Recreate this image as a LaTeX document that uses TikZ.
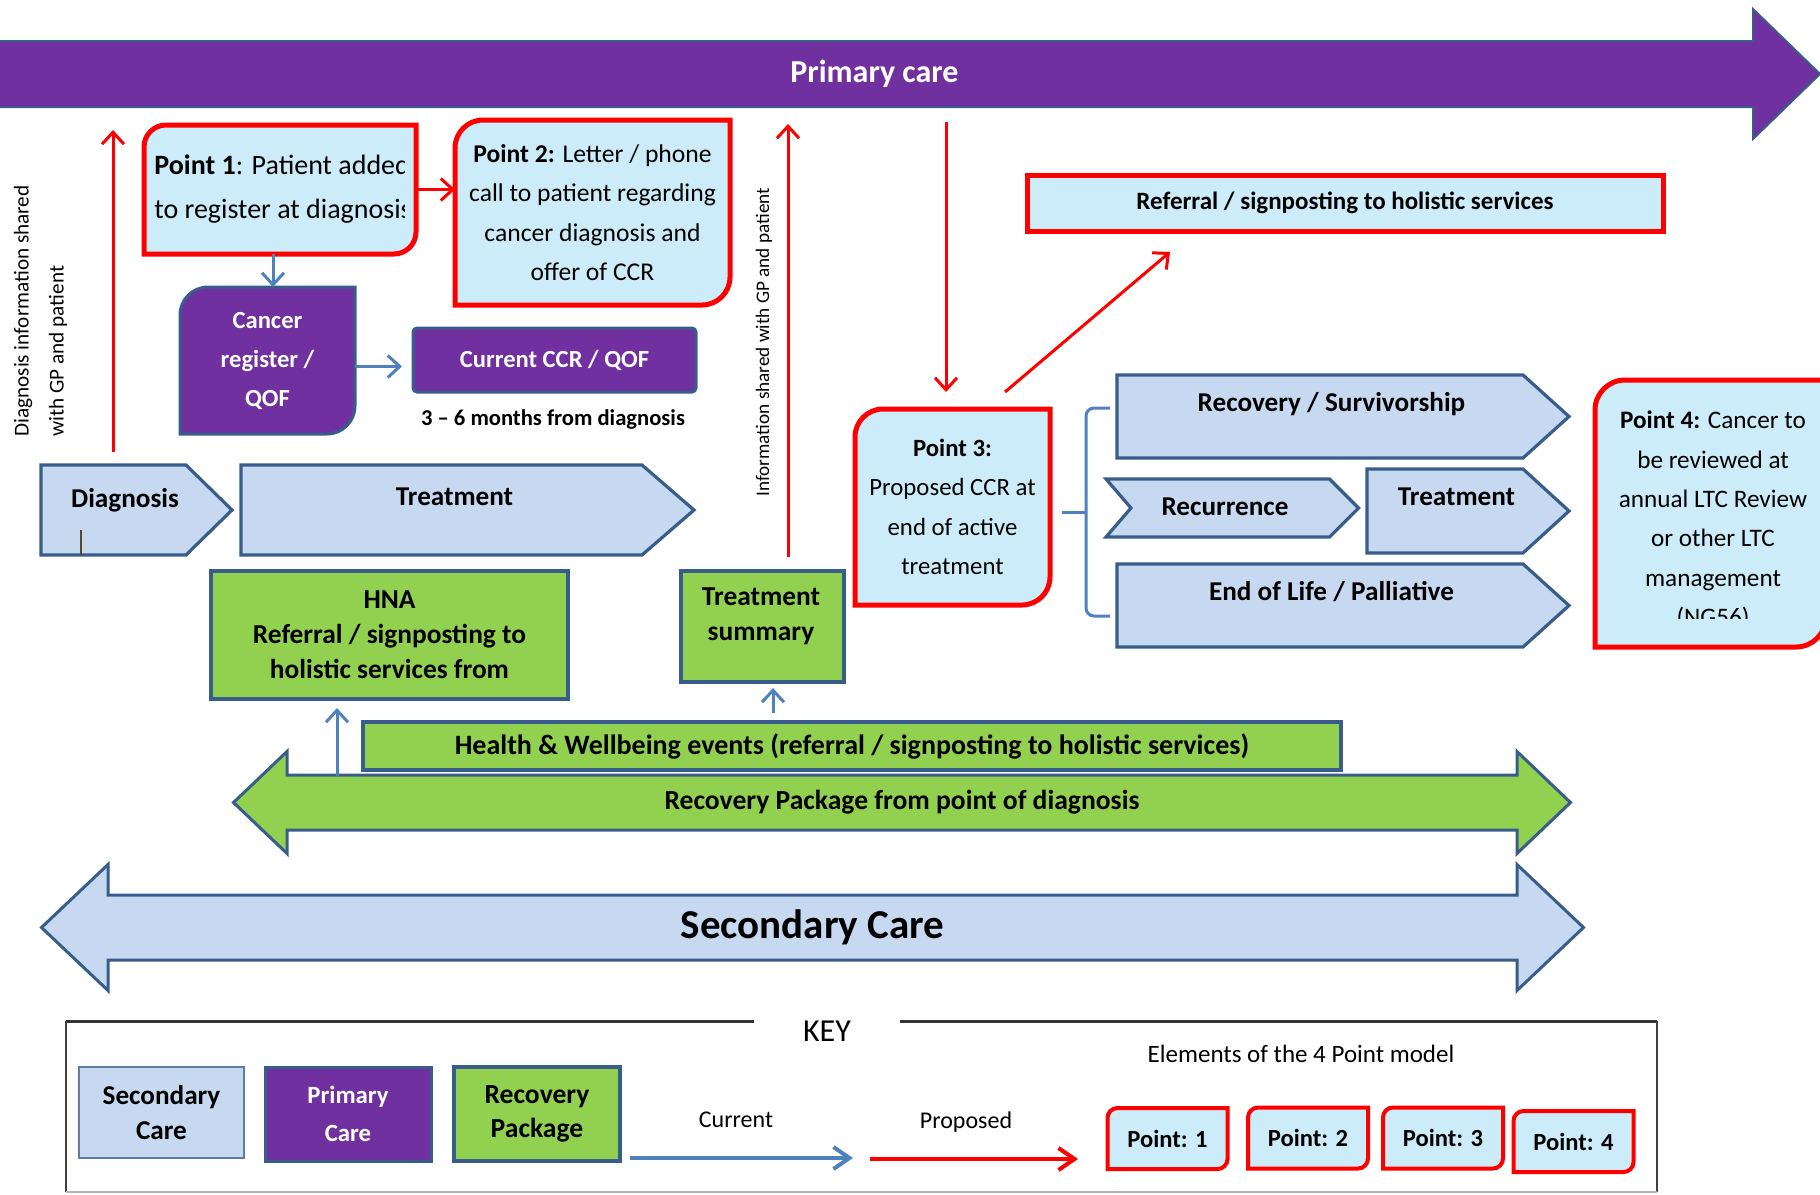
\documentclass[tikz,border=0pt]{standalone}
\usepackage{fontspec}
\setmainfont{Carlito}
\usepackage{tikz}
\usetikzlibrary{arrows.meta, positioning, backgrounds}
\definecolor{pcpurple}{RGB}{112,48,160}
\definecolor{scblue}{RGB}{198,217,241}
\definecolor{edgeblue}{RGB}{56,93,138}
\definecolor{rpgreen}{RGB}{146,208,80}
\definecolor{ptcyan}{RGB}{204,236,250}
\definecolor{ptred}{RGB}{255,0,0}
\definecolor{flowblue}{RGB}{79,129,189}
\definecolor{tickbrown}{RGB}{90,70,40}
\newcommand{\fsz}[2]{\fontsize{#1}{#2}\selectfont}
\tikzset{
  shapebox/.style={rectangle, inner sep=0pt, outer sep=0pt, align=center},
  ptframe/.style={draw=ptred, fill=ptcyan, line width=2.5pt},
  ptkeyframe/.style={draw=ptred, fill=ptcyan, line width=2pt},
  pctext/.style={text=white, font=\bfseries\fsz{12.3}{19.5}},
  pcbox/.style={shapebox, fill=pcpurple, draw=edgeblue, line width=1.5pt, pctext},
  rpbox/.style={shapebox, fill=rpgreen, draw=edgeblue, line width=2pt, font=\bfseries\fsz{13.7}{17.5}},
  chevline/.style={draw=edgeblue, fill=scblue, line width=1.6pt},
  chevnode/.style={shapebox, font=\bfseries\fsz{13.6}{17}, text height=9pt, text depth=#1},
  kpoint/.style={shapebox, minimum width=60pt, minimum height=30.5pt, font=\bfseries\fsz{12.3}{14}},
  redarrow/.style={-{Straight Barb[length=6pt,width=11pt]}, draw=ptred, line width=1.5pt},
  bluearrow/.style={-{Straight Barb[length=6pt,width=11pt]}, draw=flowblue, line width=1.5pt},
  sidetext/.style={rotate=90, align=left, inner sep=0pt},
  keytext/.style={font=\fsz{12}{14}}
}
% outline with the top-left and bottom-right corners rounded
\newcommand{\diagframe}[3]{%
  \begin{scope}[on background layer]
    \draw[#1] ([xshift=#3]#2.north west) -- (#2.north east)
      -- ([yshift=#3]#2.south east) arc[start angle=0, end angle=-90, radius=#3]
      -- (#2.south west) -- ([yshift=-#3]#2.north west)
      arc[start angle=180, end angle=90, radius=#3] -- cycle;
  \end{scope}}
% pointed box, the node holds the body plus half the tip
\newcommand{\homeplate}[2]{%
  \begin{scope}[on background layer]
    \draw[chevline] (#1.north west) -- ([xshift=-#2]#1.north east)
      -- ([xshift=#2]#1.east) -- ([xshift=-#2]#1.south east)
      -- (#1.south west) -- cycle;
  \end{scope}}
\newcommand{\notchplate}[3]{%
  \begin{scope}[on background layer]
    \draw[chevline] (#1.north west) -- ([xshift=-#2]#1.north east)
      -- ([xshift=#2]#1.east) -- ([xshift=-#2]#1.south east)
      -- (#1.south west) -- ([xshift=#3]#1.west) -- cycle;
  \end{scope}}
% block arrows, the node is the shaft
\newcommand{\onearrow}[4]{%
  \begin{scope}[on background layer]
    \draw[#1] (#2.north west) -- (#2.north east) -- ([yshift=#4]#2.north east)
      -- ([xshift=#3]#2.east) -- ([yshift=-#4]#2.south east) -- (#2.south east)
      -- (#2.south west) -- cycle;
  \end{scope}}
\newcommand{\twoarrow}[4]{%
  \begin{scope}[on background layer]
    \draw[#1] (#2.north west) -- (#2.north east) -- ([yshift=#4]#2.north east)
      -- ([xshift=#3]#2.east) -- ([yshift=-#4]#2.south east) -- (#2.south east)
      -- (#2.south west) -- ([yshift=-#4]#2.south west)
      -- ([xshift=-#3]#2.west) -- ([yshift=#4]#2.north west) -- cycle;
  \end{scope}}

\begin{document}
\begin{tikzpicture}[x=0.5pt, y=-0.5pt]
  \useasboundingbox (0,0) rectangle (1820,1194);

  % primary care band
  \node[shapebox, minimum width=878.5pt, minimum height=33pt, text=white,
    font=\bfseries\fsz{16}{18}] (pcband) at (874.5,74) {Primary care};
  \onearrow{draw=edgeblue, fill=pcpurple, line width=1pt}{pcband}{33.5pt}{16pt}

  % four points
  \node[shapebox, minimum width=136pt, minimum height=64.5pt] (pt1) at (280,189.5) {};
  \diagframe{ptframe}{pt1}{11pt}
  \begin{scope}
    \clip ([xshift=2pt]pt1.south west) rectangle ([xshift=-6pt]pt1.north east);
    \node[anchor=west, align=left, inner sep=0pt, font=\fsz{14}{22}] (pt1txt)
      at ([xshift=5pt]pt1.west) {\textbf{Point 1}: Patient added\\to register at diagnosis};
  \end{scope}

  \node[shapebox, minimum width=137.5pt, minimum height=92.5pt, font=\fsz{12.8}{19.7}] (pt2)
    at (592.5,212.5) {\textbf{Point 2:} Letter / phone\\call to patient regarding\\cancer diagnosis and\\offer of CCR};
  \diagframe{ptframe}{pt2}{14pt}

  \node[shapebox, minimum width=97.5pt, minimum height=98pt, font=\fsz{12.4}{19.7}] (pt3)
    at (952.5,507) {\textbf{Point 3:}\\Proposed CCR at\\end of active\\treatment};
  \diagframe{ptframe}{pt3}{14pt}

  \node[shapebox, minimum width=115.5pt, minimum height=133.5pt] (pt4) at (1710.5,513.5) {};
  \diagframe{ptframe}{pt4}{15pt}
  \begin{scope}
    \clip (pt4.north west) rectangle ([yshift=14.5pt]pt4.south east);
    \node[shapebox, font=\fsz{12.6}{19.7}] (pt4txt) at ([xshift=1.25pt,yshift=-3.25pt]pt4.center)
      {\textbf{Point 4:} Cancer to\\be reviewed at\\annual LTC Review\\or other LTC\\management\\(NG56)};
  \end{scope}

  % register
  \node[shapebox, pctext, minimum width=87.5pt, minimum height=73.5pt] (ccreg) at (267.5,360.5) {Cancer\\register /\\QOF};
  \diagframe{draw=edgeblue, fill=pcpurple, line width=1.5pt}{ccreg}{14pt}
  \node[pcbox, minimum width=141.5pt, minimum height=32pt, rounded corners=2pt] (ccr) at (554.5,360) {Current CCR / QOF};
  \node[font=\bfseries\fsz{11.3}{13}] (months) at (553,419) {3 – 6 months from diagnosis};

  \node[shapebox, ptframe, minimum width=318pt, minimum height=28pt, font=\bfseries\fsz{12.5}{14}] (referral)
    at (1345,203) {Referral / signposting to holistic services};

  % pathway
  \node[chevnode=11.2pt, minimum width=84pt, minimum height=45pt] (diag) at (125,510) {Diagnosis};
  \homeplate{diag}{11.5pt}
  \node[chevnode=13.2pt, minimum width=213.5pt, minimum height=45pt] (treat) at (454.5,510) {Treatment};
  \homeplate{treat}{13pt}
  \node[chevnode=13.7pt, minimum width=214.5pt, minimum height=41.5pt] (recov) at (1331.5,416.5) {Recovery / Survivorship};
  \homeplate{recov}{11.5pt}
  \node[chevnode=1.2pt, minimum width=119pt, minimum height=29pt] (recur) at (1225,508) {Recurrence};
  \notchplate{recur}{7.25pt}{12.5pt}
  \node[chevnode=14.2pt, minimum width=89.5pt, minimum height=42pt] (retreat) at (1456.5,511) {Treatment};
  \homeplate{retreat}{11.5pt}
  \node[chevnode=13.7pt, minimum width=214.5pt, minimum height=41.5pt] (eol) at (1331.5,605.5) {End of Life / Palliative};
  \homeplate{eol}{11.5pt}
  \draw[tickbrown, line width=1pt] ([xshift=-22pt]diag.south) -- ++(0,-25);

  \coordinate (brtop) at (1110,408);
  \coordinate (brbot) at (1110,616);
  \coordinate (brmid) at (1062,512);
  \draw[flowblue, line width=1.5pt, rounded corners=4pt] (brtop) -- ++(-24,0) -- ++(0,208) -- (brbot);
  \draw[flowblue, line width=1.5pt] (brmid) -- ++(24,0);

  % recovery package
  \node[rpbox, minimum width=178.5pt, minimum height=64pt] (hna) at (389.5,635) {HNA\\Referral / signposting to\\holistic services from};
  \node[rpbox, minimum width=81.5pt, minimum height=55.5pt] (tsum) at (762.5,626.5) {};
  \node[shapebox, font=\bfseries\fsz{13.7}{17.5}] (tsumtxt) at (761,616.5) {Treatment\\summary};
  \node[rpbox, minimum width=489pt, minimum height=24pt, font=\bfseries\fsz{14}{16}] (hwb)
    at (852,746) {Health \& Wellbeing events (referral / signposting to holistic services)};

  \node[shapebox, minimum width=615pt, minimum height=27.5pt, font=\bfseries\fsz{13.8}{16}] (rpack)
    at (902,802.5) {Recovery Package from point of diagnosis};
  \twoarrow{draw=edgeblue, fill=rpgreen, line width=1.5pt}{rpack}{26.75pt}{11.75pt}
  \node[shapebox, minimum width=704.5pt, minimum height=32.5pt, font=\bfseries\fsz{20.5}{24}] (scare)
    at (812.5,927.5) {Secondary Care};
  \twoarrow{draw=edgeblue, fill=scblue, line width=1.5pt}{scare}{33.25pt}{15.25pt}

  % information flow
  \coordinate (dinfobot) at (113,452);
  \coordinate (dinfotop) at (113,130);
  \draw[redarrow] (dinfobot) -- (dinfotop);
  \node[sidetext, anchor=west, font=\fsz{10.6}{17.5}] (diaginfo) at (40.5,437)
    {Diagnosis information shared\\with GP and patient};

  \coordinate (tsinfobot) at (788,557);
  \coordinate (tsinfotop) at (788,124);
  \draw[redarrow] (tsinfobot) -- (tsinfotop);
  \node[sidetext, anchor=west, font=\fsz{9.6}{12}] (tsinfo) at (764,497) {Information shared with GP and patient};

  \coordinate (pcdown) at (946,122);
  \draw[redarrow, shorten >=8.5pt] (pcdown) -- (pcdown |- pt3.north);
  \coordinate (p3out) at (1005,392);
  \coordinate (refin) at (1170,252);
  \draw[redarrow] (p3out) -- (refin);
  \draw[redarrow] (pt1.east) -- (pt1.east -| pt2.west);

  \draw[bluearrow] ([xshift=-3.5pt]pt1.south) -- ([xshift=-3.5pt]pt1.south |- ccreg.north);
  \draw[bluearrow, shorten >=5.5pt] ([yshift=-3pt]ccreg.east) -- ([yshift=-3pt]ccreg.east -| ccr.west);
  \coordinate (hwup) at (773,722);
  \draw[bluearrow, shorten <=4.5pt, shorten >=3pt] (hwup) -- (hwup |- tsum.south);
  \coordinate (rpup) at (337,776);
  \draw[bluearrow, shorten >=4.5pt] (rpup) -- (rpup |- hna.south);

  % key
  \node[shapebox, minimum width=795.5pt, minimum height=85.5pt] (keyframe) at (861.5,1106.5) {};
  \node[shapebox, minimum width=73pt, font=\fsz{16}{18}] (keylbl) at (827,1031) {KEY};
  \draw[line width=1.5pt, black!80] (keyframe.north west) -- (keyframe.north west -| keylbl.west);
  \draw[line width=1.5pt, black!80] (keylbl.east |- keyframe.north) -- (keyframe.north east);
  \draw[line width=0.8pt, black!75] (keyframe.north west) -- (keyframe.south west);
  \draw[line width=0.8pt, black!75] (keyframe.north east) -- (keyframe.south east);
  \draw[line width=0.8pt, black!30] (keyframe.south west) -- (keyframe.south east);

  \node[shapebox, fill=scblue, draw=edgeblue!80, line width=1pt, minimum width=82.5pt, minimum height=45.5pt,
    font=\bfseries\fsz{13.6}{17.5}] (sckey) at (161.5,1112.5) {Secondary\\Care};
  \node[pcbox, minimum width=83pt, minimum height=47pt, font=\bfseries\fsz{12.4}{19}] (pckey) at (348,1114) {Primary\\Care};
  \node[rpbox, minimum width=83pt, minimum height=47pt, font=\bfseries\fsz{13.8}{17}] (rpkey) at (537,1114) {Recovery\\Package};

  \node[keytext] (curlbl) at (736,1120) {Current};
  \coordinate (curfrom) at (630,1158);
  \coordinate (curto) at (853,1158);
  \draw[bluearrow, -{Straight Barb[length=8pt,width=11pt]}, line width=2pt] (curfrom) -- (curto);
  \node[keytext] (proplbl) at (966,1122) {Proposed};
  \coordinate (propfrom) at (870,1159);
  \coordinate (propto) at (1078,1159);
  \draw[redarrow, -{Straight Barb[length=8pt,width=11pt]}, line width=2pt] (propfrom) -- (propto);
  \node[keytext, font=\fsz{12.5}{14}] (elemlbl) at (1301,1054) {Elements of the 4 Point model};

  \node[kpoint] (kp1) at (1167.5,1138.5) {Point: 1};
  \diagframe{ptkeyframe}{kp1}{5pt}
  \node[kpoint] (kp2) at (1308,1138) {Point: 2};
  \diagframe{ptkeyframe}{kp2}{5pt}
  \node[kpoint] (kp3) at (1443,1138) {Point: 3};
  \diagframe{ptkeyframe}{kp3}{5pt}
  \node[kpoint] (kp4) at (1573.5,1141.5) {Point: 4};
  \diagframe{ptkeyframe}{kp4}{5pt}
\end{tikzpicture}
\end{document}
